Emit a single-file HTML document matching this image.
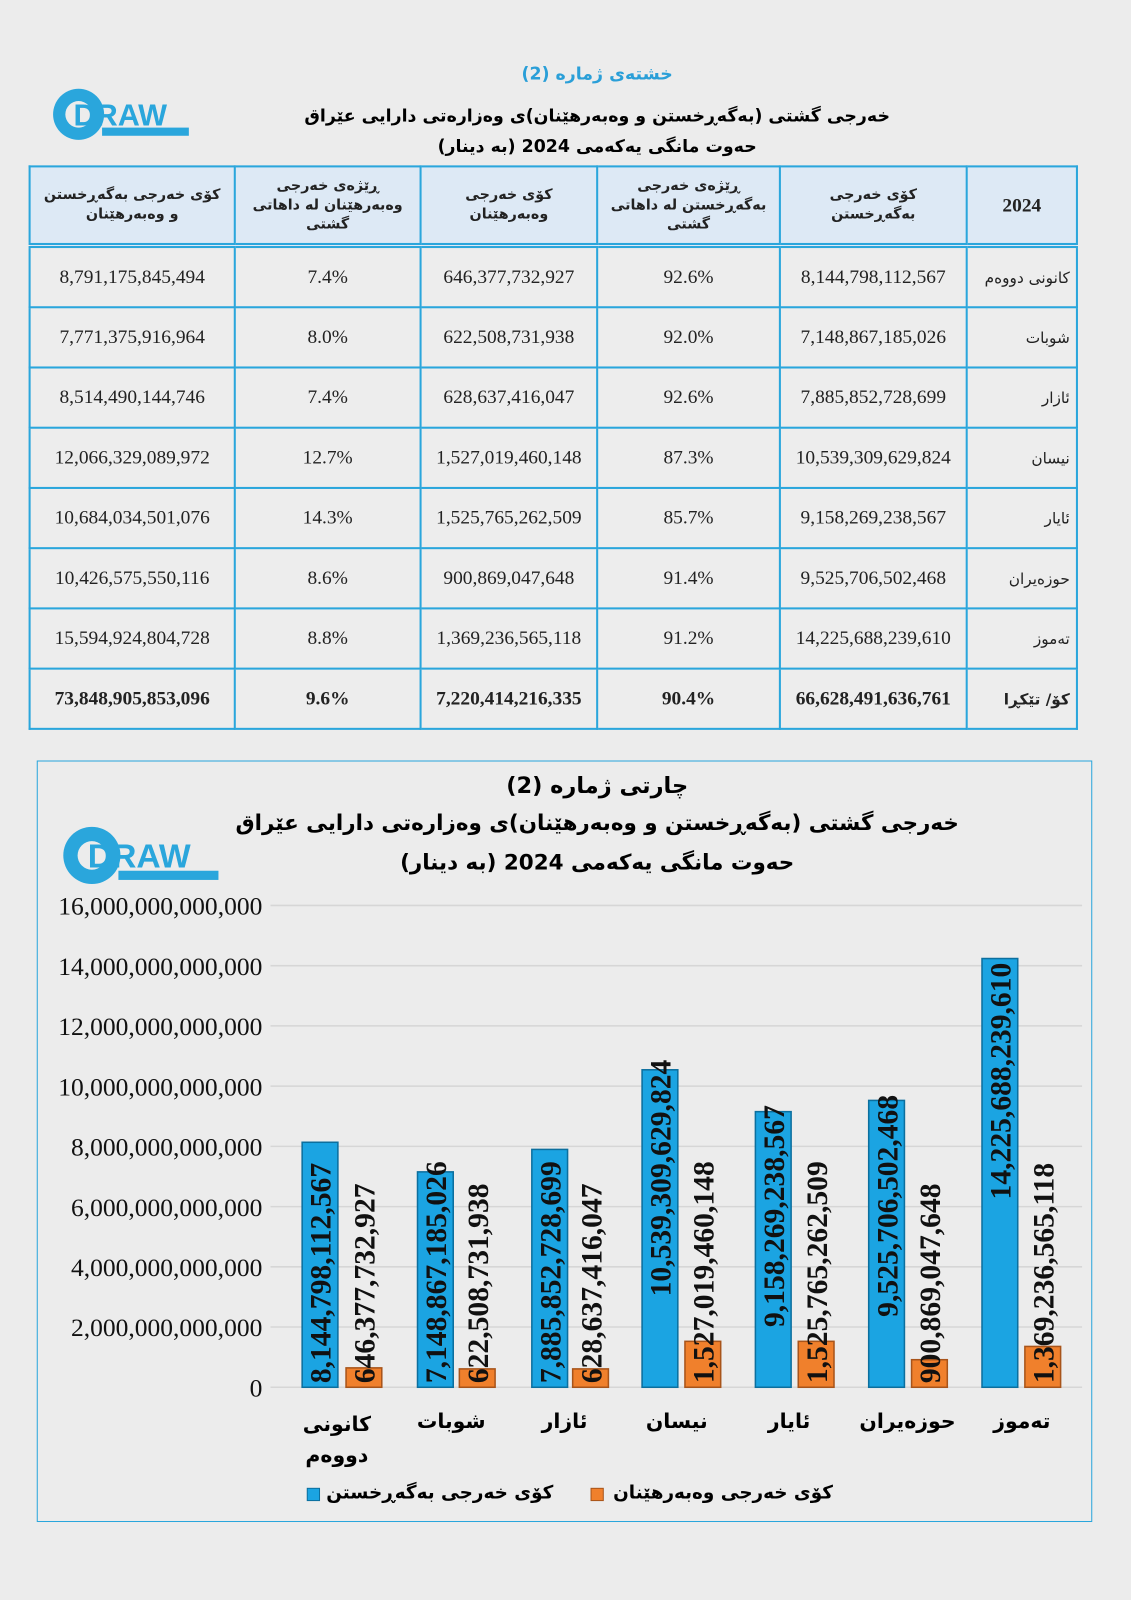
<!DOCTYPE html>
<html><head><meta charset="utf-8"><style>
body{margin:0;background:#ececec;}
#o{width:1131px;height:1600px;overflow:hidden;background:#ececec}
#p{position:relative;width:1108px;height:1568px;background:#ececec;font-family:"Liberation Serif","Noto Sans CJK SC",serif;transform:scale(1.0208);transform-origin:0 0}
.t{position:absolute;text-align:center;white-space:nowrap;font-weight:bold;font-family:"DejaVu Sans","Liberation Sans",sans-serif}
table{position:absolute;left:28px;top:162px;border-collapse:collapse;width:1028px;}
td{border:2px solid #2aa6dc;text-align:center;font-size:19px;color:#222;height:57px;padding:0;background:#ededed}
tr.h td{background:#dde9f5;height:74px;font-family:"DejaVu Sans",sans-serif;font-weight:bold;font-size:14px;line-height:19px;border-bottom:5px double #2aa6dc}
td.m{font-family:"DejaVu Sans",sans-serif;font-size:15px;text-align:right;padding-right:6px}
tr.tot td{font-weight:bold}
</style></head><body><div id="o"><div id="p">
<div class="t" dir="rtl" style="left:385px;top:63px;width:400px;font-size:17px;color:#2a9fd8">خشتەی ژمارە (2)</div>
<div class="t" dir="rtl" style="left:235px;top:104px;width:700px;font-size:17px">خەرجی گشتی (بەگەڕخستن و وەبەرهێنان)ی وەزارەتی دارایی عێراق</div>
<div class="t" dir="rtl" style="left:335px;top:134px;width:500px;font-size:17px">حەوت مانگی یەکەمی 2024 (بە دینار)</div>
<svg style="position:absolute;left:50px;top:85px" width="140" height="55"><circle cx="27" cy="27" r="25" fill="#2aa6dc"/><circle cx="27" cy="27" r="13" fill="#ececec"/><text x="22" y="38" font-family="Liberation Sans" font-weight="bold" font-size="30" fill="#2aa6dc">DRAW</text><rect x="50" y="40" width="85" height="8" fill="#2aa6dc"/></svg>
<table>
<tr class="h"><td style="width:199px" dir="rtl">کۆی خەرجی بەگەڕخستن<br>و وەبەرهێنان</td><td style="width:180px" dir="rtl">ڕێژەی خەرجی<br>وەبەرهێنان لە داهاتی<br>گشتی</td><td style="width:171px" dir="rtl">کۆی خەرجی<br>وەبەرهێنان</td><td style="width:177px" dir="rtl">ڕێژەی خەرجی<br>بەگەڕخستن لە داهاتی<br>گشتی</td><td style="width:181px" dir="rtl">کۆی خەرجی<br>بەگەڕخستن</td><td style="font-family:'Liberation Serif';font-size:19px">2024</td></tr>
<tr><td>8,791,175,845,494</td><td>7.4%</td><td>646,377,732,927</td><td>92.6%</td><td>8,144,798,112,567</td><td class="m" dir="rtl">کانونی دووەم</td></tr>
<tr><td>7,771,375,916,964</td><td>8.0%</td><td>622,508,731,938</td><td>92.0%</td><td>7,148,867,185,026</td><td class="m" dir="rtl">شوبات</td></tr>
<tr><td>8,514,490,144,746</td><td>7.4%</td><td>628,637,416,047</td><td>92.6%</td><td>7,885,852,728,699</td><td class="m" dir="rtl">ئازار</td></tr>
<tr><td>12,066,329,089,972</td><td>12.7%</td><td>1,527,019,460,148</td><td>87.3%</td><td>10,539,309,629,824</td><td class="m" dir="rtl">نیسان</td></tr>
<tr><td>10,684,034,501,076</td><td>14.3%</td><td>1,525,765,262,509</td><td>85.7%</td><td>9,158,269,238,567</td><td class="m" dir="rtl">ئایار</td></tr>
<tr><td>10,426,575,550,116</td><td>8.6%</td><td>900,869,047,648</td><td>91.4%</td><td>9,525,706,502,468</td><td class="m" dir="rtl">حوزەیران</td></tr>
<tr><td>15,594,924,804,728</td><td>8.8%</td><td>1,369,236,565,118</td><td>91.2%</td><td>14,225,688,239,610</td><td class="m" dir="rtl">تەموز</td></tr>
<tr class="tot"><td>73,848,905,853,096</td><td>9.6%</td><td>7,220,414,216,335</td><td>90.4%</td><td>66,628,491,636,761</td><td class="m" dir="rtl" style="font-weight:bold">کۆ/ تێکڕا</td></tr>
</table>
<div style="position:absolute;left:36px;top:745px;width:1032px;height:744px;border:1px solid #2aa6dc"></div>
<div class="t" dir="rtl" style="left:335px;top:758px;width:500px;font-size:22px">چارتی ژمارە (2)</div>
<div class="t" dir="rtl" style="left:185px;top:794px;width:800px;font-size:21px">خەرجی گشتی (بەگەڕخستن و وەبەرهێنان)ی وەزارەتی دارایی عێراق</div>
<div class="t" dir="rtl" style="left:285px;top:833px;width:600px;font-size:21px">حەوت مانگی یەکەمی 2024 (بە دینار)</div>
<svg style="position:absolute;left:0;top:0" width="1108" height="1568" font-family="Liberation Serif">
<g transform="translate(60,810)"><circle cx="30" cy="28" r="28" fill="#2aa6dc"/><circle cx="30" cy="28" r="14" fill="#ececec"/><text x="26" y="40" font-family="Liberation Sans" font-weight="bold" font-size="33" fill="#2aa6dc">DRAW</text><rect x="56" y="43" width="98" height="9" fill="#2aa6dc"/></g>
<g stroke="#d6d6d6" stroke-width="1.5">
<line x1="265" x2="1060" y1="887" y2="887"/><line x1="265" x2="1060" y1="946" y2="946"/><line x1="265" x2="1060" y1="1005" y2="1005"/><line x1="265" x2="1060" y1="1064" y2="1064"/><line x1="265" x2="1060" y1="1123" y2="1123"/><line x1="265" x2="1060" y1="1182" y2="1182"/><line x1="265" x2="1060" y1="1241" y2="1241"/><line x1="265" x2="1060" y1="1300" y2="1300"/><line x1="265" x2="1060" y1="1359" y2="1359"/></g>
<g font-size="25" text-anchor="end" fill="#111">
<text x="257" y="896">16,000,000,000,000</text><text x="257" y="955">14,000,000,000,000</text><text x="257" y="1014">12,000,000,000,000</text><text x="257" y="1073">10,000,000,000,000</text><text x="257" y="1132">8,000,000,000,000</text><text x="257" y="1191">6,000,000,000,000</text><text x="257" y="1250">4,000,000,000,000</text><text x="257" y="1309">2,000,000,000,000</text><text x="257" y="1368">0</text></g>
<g fill="#1ba4e2" stroke="#0c6f9e" stroke-width="1.5">
<rect x="296" y="1119" width="35" height="240"/><rect x="409" y="1148" width="35" height="211"/><rect x="521" y="1126" width="35" height="233"/><rect x="629" y="1048" width="35" height="311"/><rect x="740" y="1089" width="35" height="270"/><rect x="851" y="1078" width="35" height="281"/><rect x="962" y="939" width="35" height="420"/></g>
<g fill="#f0802c" stroke="#a8541a" stroke-width="1.5">
<rect x="339" y="1340" width="35" height="19"/><rect x="450" y="1341" width="35" height="18"/><rect x="561" y="1341" width="35" height="18"/><rect x="671" y="1314" width="35" height="45"/><rect x="782" y="1314" width="35" height="45"/><rect x="893" y="1332" width="35" height="27"/><rect x="1004" y="1319" width="35" height="40"/></g>
<g font-size="29" font-weight="bold" fill="#111">
<text transform="translate(324,1355) rotate(-90)">8,144,798,112,567</text>
<text transform="translate(367,1355) rotate(-90)">646,377,732,927</text>
<text transform="translate(437,1355) rotate(-90)">7,148,867,185,026</text>
<text transform="translate(478,1355) rotate(-90)">622,508,731,938</text>
<text transform="translate(549,1355) rotate(-90)">7,885,852,728,699</text>
<text transform="translate(589,1355) rotate(-90)">628,637,416,047</text>
<text transform="translate(657,1270) rotate(-90)">10,539,309,629,824</text>
<text transform="translate(699,1355) rotate(-90)">1,527,019,460,148</text>
<text transform="translate(768,1300) rotate(-90)">9,158,269,238,567</text>
<text transform="translate(810,1355) rotate(-90)">1,525,765,262,509</text>
<text transform="translate(879,1290) rotate(-90)">9,525,706,502,468</text>
<text transform="translate(921,1355) rotate(-90)">900,869,047,648</text>
<text transform="translate(990,1175) rotate(-90)">14,225,688,239,610</text>
<text transform="translate(1032,1355) rotate(-90)">1,369,236,565,118</text></g>
<rect x="301" y="1458" width="12" height="12" fill="#1ba4e2" stroke="#0c6f9e"/>
<rect x="579" y="1458" width="12" height="12" fill="#f0802c" stroke="#a8541a"/>
</svg>
<div class="t" dir="rtl" style="left:290px;top:1380px;width:80px;font-size:20px;line-height:30px">کانونی<br>دووەم</div>
<div class="t" dir="rtl" style="left:397px;top:1380px;width:90px;font-size:20px">شوبات</div>
<div class="t" dir="rtl" style="left:508px;top:1380px;width:90px;font-size:20px">ئازار</div>
<div class="t" dir="rtl" style="left:618px;top:1380px;width:90px;font-size:20px">نیسان</div>
<div class="t" dir="rtl" style="left:728px;top:1380px;width:90px;font-size:20px">ئایار</div>
<div class="t" dir="rtl" style="left:834px;top:1380px;width:110px;font-size:20px">حوزەیران</div>
<div class="t" dir="rtl" style="left:956px;top:1380px;width:90px;font-size:20px">تەموز</div>
<div class="t" dir="rtl" style="left:320px;top:1452px;width:222px;font-size:18px;text-align:right">کۆی خەرجی بەگەڕخستن</div>
<div class="t" dir="rtl" style="left:598px;top:1452px;width:218px;font-size:18px;text-align:right">کۆی خەرجی وەبەرهێنان</div>
</div></div></body></html>
